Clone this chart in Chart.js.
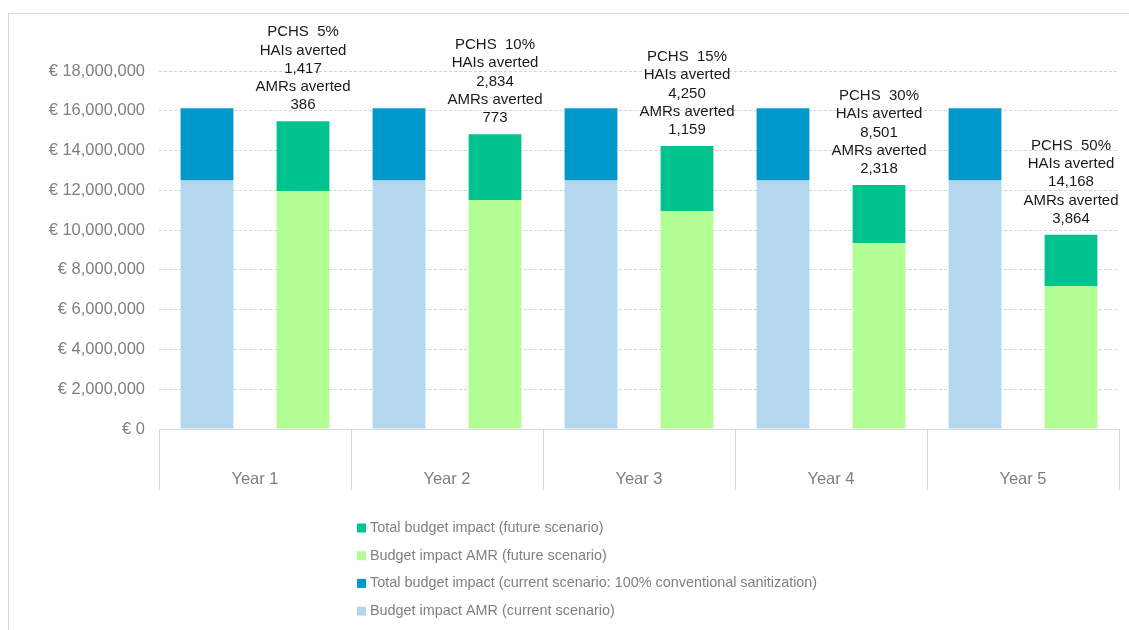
<!DOCTYPE html>
<html>
<head>
<meta charset="utf-8">
<title>Budget impact</title>
<script src="https://cdn.jsdelivr.net/npm/chart.js@4.4.1/dist/chart.umd.min.js"></script>
<style>
  html, body { margin: 0; padding: 0; background: #fff; }
  #wrap { position: relative; width: 1129px; height: 630px; overflow: hidden; }
  #frame { position: absolute; left: 8px; top: 13px; width: 1130px; height: 630px; border: 1px solid #d9d9d9; box-sizing: border-box; }
  canvas { position: absolute; left: 0; top: 0; }
</style>
</head>
<body>
<div id="wrap">
  <div id="frame"></div>
  <canvas id="budgetChart" width="1129" height="630"></canvas>
</div>
<script>
// Data
const years = ['Year 1', 'Year 2', 'Year 3', 'Year 4', 'Year 5'];
const currentAmr = [12500000, 12500000, 12500000, 12500000, 12500000];
const currentTotal = [16130000, 16130000, 16130000, 16130000, 16130000];
const futureAmr = [11970000, 11500000, 10960000, 9340000, 7190000];
const futureTotal = [15470000, 14820000, 14230000, 12270000, 9770000];
const pchs = ['5%', '10%', '15%', '30%', '50%'];
const haisAverted = ['1,417', '2,834', '4,250', '8,501', '14,168'];
const amrsAverted = ['386', '773', '1,159', '2,318', '3,864'];

const FONT = '"Liberation Sans", Arial, sans-serif';
const GREY = '#7f7f7f';

// stacked segment on top of the AMR part
function topPart(total, amr) {
    return total.map((t, i) => t - amr[i]);
}

/**
 * Annotation text above each future-scenario bar
 */
const annotationPlugin = {
    id: 'averted',
    afterDatasetsDraw(chart) {
        const ctx = chart.ctx;
        const meta = chart.getDatasetMeta(3);
        ctx.save();
        ctx.font = '15px ' + FONT;
        ctx.fillStyle = '#1a1a1a';
        ctx.textAlign = 'center';
        ctx.textBaseline = 'middle';
        meta.data.forEach((bar, i) => {
            const lines = ['PCHS  ' + pchs[i], 'HAIs averted', haisAverted[i], 'AMRs averted', amrsAverted[i]];
            const lh = 18.3;
            let y = bar.y - 16 - lh * (lines.length - 1);
            lines.forEach(line => {
                ctx.fillText(line, bar.x, y);
                y += lh;
            });
        });
        ctx.restore();
    }
};

/**
 * Vertical legend under the axis (reverse dataset order)
 */
const stackedLegend = {
    id: 'stackedLegend',
    afterDraw(chart) {
        const ctx = chart.ctx;
        const sets = chart.data.datasets.slice().reverse();
        ctx.save();
        ctx.font = '14.4px ' + FONT;
        ctx.textBaseline = 'middle';
        ctx.textAlign = 'left';
        sets.forEach((ds, i) => {
            const y = 528 + i * 27.7;
            ctx.fillStyle = ds.backgroundColor;
            ctx.fillRect(357, y - 4.5, 9, 9);
            ctx.fillStyle = GREY;
            ctx.fillText(ds.label, 370, y);
        });
        ctx.restore();
    }
};

const chart = new Chart(document.getElementById('budgetChart'), {
    type: 'bar',
    data: {
        labels: years,
        datasets: [{
            label: 'Budget impact AMR (current scenario)',
            data: currentAmr,
            backgroundColor: '#b4d7ee',
            stack: 'current'
        }, {
            label: 'Total budget impact (current scenario: 100% conventional sanitization)',
            data: topPart(currentTotal, currentAmr),
            backgroundColor: '#0099cc',
            stack: 'current'
        }, {
            label: 'Budget impact AMR (future scenario)',
            data: futureAmr,
            backgroundColor: '#b2fe92',
            stack: 'future'
        }, {
            label: 'Total budget impact (future scenario)',
            data: topPart(futureTotal, futureAmr),
            backgroundColor: '#00c38e',
            stack: 'future'
        }]
    },
    options: {
        responsive: false,
        animation: false,
        categoryPercentage: 1.0,
        barPercentage: 0.55,
        layout: { padding: { left: 0, right: 10, top: 71, bottom: 140 } },
        plugins: {
            legend: { display: false },
            tooltip: { enabled: false }
        },
        scales: {
            x: {
                stacked: true,
                grid: {
                    offset: true,
                    drawOnChartArea: false,
                    color: '#d9d9d9',
                    tickLength: 61
                },
                border: { display: true, color: '#d9d9d9' },
                ticks: {
                    color: GREY,
                    font: { family: FONT, size: 16.5 },
                    padding: -20
                },
                afterFit(scale) { scale.height = 61; }
            },
            y: {
                stacked: true,
                min: 0,
                max: 18000000,
                grid: {
                    color: '#d4d4d4',
                    drawTicks: false
                },
                border: { display: false, dash: [3, 2] },
                ticks: {
                    stepSize: 2000000,
                    color: GREY,
                    padding: 14,
                    font: { family: FONT, size: 16.5 },
                    callback: v => '€ ' + v.toLocaleString('en-US')
                },
                afterFit(scale) { scale.width = 159; }
            }
        }
    },
    plugins: [annotationPlugin, stackedLegend]
});
</script>
</body>
</html>
